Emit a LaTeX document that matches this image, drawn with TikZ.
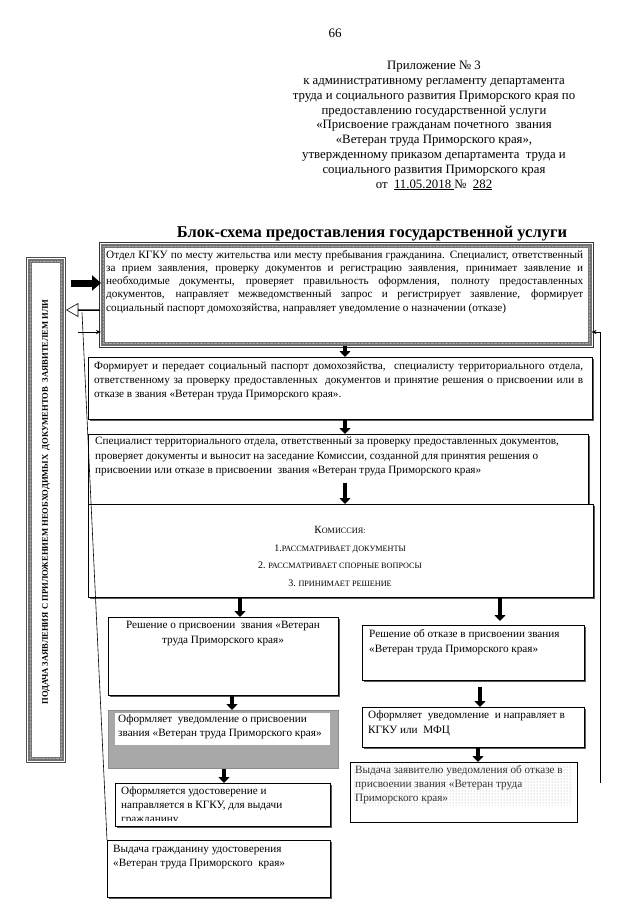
\documentclass[tikz,border=0pt]{standalone}
\usepackage{fontspec}
\setmainfont{Liberation Serif}
\usetikzlibrary{arrows.meta,shadows,shapes.arrows,patterns,calc}
\begin{document}
\begin{tikzpicture}[x=1pt,y=-1pt,
  box/.style={draw=black, line width=0.8pt, fill=white, anchor=north west, inner sep=0pt,
    drop shadow={shadow xshift=1.6pt, shadow yshift=-1.6pt, fill=black!65, opacity=1}},
  plainbox/.style={draw=black, line width=0.8pt, fill=white, anchor=north west, inner sep=0pt},
  txt/.style={anchor=north west, inner sep=0pt, font=\fontsize{11.2}{14}\selectfont},
  blk/.style={line width=4.5pt, -{Triangle[width=11pt,length=6pt]}},
  thinarr/.style={line width=0.6pt, -{Stealth[length=5pt,width=4pt]}},
]
\useasboundingbox (0,0) rectangle (640,905);
\fill[white] (0,0) rectangle (640,905);

% header
\node[font=\fontsize{13}{15}\selectfont, anchor=base] (pg) at (335,37) {66};
\node[anchor=north, align=center, inner sep=0pt, font=\fontsize{12.8}{14.8}\selectfont] (hdr) at (434,61)
{Приложение № 3\\
к административному регламенту департамента\\
труда и социального развития Приморского края по\\
предоставлению государственной услуги\\
«Присвоение гражданам почетного\ \ звания\\
«Ветеран труда Приморского края»,\\
утвержденному приказом департамента\ \ труда и\\
социального развития Приморского края\\
от\ \ \underline{11.05.2018\ }№\ \ \underline{282}};

\node[font=\bfseries\fontsize{16.5}{18}\selectfont, anchor=base] (ttl) at (372,237)
{Блок-схема предоставления государственной услуги};

% left bar
\node[anchor=north west, minimum width=32pt, minimum height=498pt, draw=black!55, line width=3.5pt,
  fill=white, inner sep=0pt] (lb) at (28,259) {};
\draw[black!70, line width=0.4pt] ($(lb.north west)+(-1.75,-1.75)$) rectangle ($(lb.south east)+(1.75,1.75)$);
\draw[black!35, line width=0.4pt, densely dotted] ($(lb.north west)+(2.3,2.3)$) rectangle ($(lb.south east)+(-2.3,-2.3)$);
\node[rotate=90, inner sep=0pt, font=\bfseries\fontsize{8.6}{10}\selectfont] (lbt) at (46,502)
{ПОДАЧА ЗАЯВЛЕНИЯ С ПРИЛОЖЕНИЕМ НЕОБХОДИМЫХ\ \ ДОКУМЕНТОВ\ \ ЗАЯВИТЕЛЕМ ИЛИ};

% box 1
\node[anchor=north west, minimum width=487pt, minimum height=98pt, draw=black!55, line width=3.5pt,
  fill=white, inner sep=0pt] (b1) at (101,244) {};
\draw[black!80, line width=0.5pt] ($(b1.north west)+(-1.75,-1.75)$) rectangle ($(b1.south east)+(1.75,1.75)$);
\draw[black!35, line width=0.4pt, densely dotted] ($(b1.north west)+(2.3,2.3)$) rectangle ($(b1.south east)+(-2.3,-2.3)$);
\node[txt, text width=477pt, align=justify, font=\fontsize{11.2}{13.25}\selectfont] (t1) at (106,250)
{Отдел КГКУ по месту жительства или месту пребывания гражданина. Специалист, ответственный\linebreak
за прием заявления, проверку документов и регистрацию заявления, принимает заявление и\linebreak
необходимые документы, проверяет правильность оформления, полноту предоставленных\linebreak
документов, направляет межведомственный запрос и регистрирует заявление, формирует\linebreak
социальный паспорт домохозяйства, направляет уведомление о назначении (отказе)};

% side arrows
\coordinate (c283) at (0,283);
\coordinate (c332) at (0,332);
\draw[line width=7pt, -{Triangle[width=15pt,length=9pt]}, shorten <=7pt] (lb.east |- c283) -- (b1.west |- c283);
\node[single arrow, draw=black, fill=white, line width=0.6pt, shape border rotate=180,
  minimum height=33pt, minimum width=13pt, single arrow head extend=4pt,
  single arrow tip angle=60, inner sep=0pt, anchor=tail] (ha) at (100,310) {};
\coordinate (t0) at (78,332);
\draw[thinarr] (t0) -- (b1.west |- t0);
\coordinate (r0) at (600,783);
\draw[thinarr] (r0) |- (b1.east |- c332);

% box 2
\node[box, minimum width=504pt, minimum height=62pt] (b2) at (88,357) {};
\node[txt, text width=489pt, align=justify] (t2) at (94,362)
{Формирует и передает социальный паспорт домохозяйства,\ \ специалисту территориального отдела,\linebreak
ответственному за проверку предоставленных\ \ документов и принятие решения о присвоении или в\linebreak
отказе в звания «Ветеран труда Приморского края».};

% box 3
\node[box, minimum width=500pt, minimum height=72pt] (b3) at (88,434) {};
\node[txt, align=left, font=\fontsize{11.2}{14.5}\selectfont] (t3) at (95,437)
{Специалист территориального отдела, ответственный за проверку предоставленных документов,\\
проверяет документы и выносит на заседание Комиссии, созданной для принятия решения о\\
присвоении или отказе в присвоении\ \ звания «Ветеран труда Приморского края»};

% box 4
\node[box, minimum width=505pt, minimum height=93pt] (b4) at (88,504) {};
\node[anchor=north, align=center, inner sep=0pt, font=\fontsize{8.2}{17.6}\selectfont] (t4) at (340,526)
{{\fontsize{11}{12}\selectfont К}ОМИССИЯ:\\
{\fontsize{10}{10}\selectfont 1.}РАССМАТРИВАЕТ ДОКУМЕНТЫ\\
{\fontsize{10}{10}\selectfont 2.} РАССМАТРИВАЕТ СПОРНЫЕ ВОПРОСЫ\\
{\fontsize{10}{10}\selectfont 3.} ПРИНИМАЕТ РЕШЕНИЕ};

\coordinate (x345) at (345,0);
\coordinate (a3) at (345,483);
\draw[blk] (b1.south -| x345) -- (b2.north -| x345);
\draw[blk] (b2.south -| x345) -- (b3.north -| x345);
\draw[blk] (a3) -- (a3 |- b4.north);

% box 5
\node[box, minimum width=230pt, minimum height=78pt] (b5) at (108,617) {};
\node[txt, anchor=north, align=center, font=\fontsize{11.2}{15}\selectfont] (t5) at (223,621)
{Решение о присвоении\ \ звания «Ветеран\\ труда Приморского края»};

% box 6
\node[box, minimum width=222pt, minimum height=55pt] (b6) at (362,625) {};
\node[txt, align=left, font=\fontsize{11.2}{15}\selectfont] (t6) at (369,629)
{Решение об отказе в присвоении звания\\ «Ветеран труда Приморского края»};

% box 7
\node[anchor=north west, minimum width=230pt, minimum height=58pt, inner sep=0pt,
  fill=black!34, draw=black!45, line width=0.6pt] (b7) at (108,710) {};
\fill[white] (115,713) rectangle (330,745);
\node[txt, align=left] (t7) at (118,715)
{Оформляет\ \ уведомление о присвоении\\ звания «Ветеран труда Приморского края»};

% box 8
\node[box, minimum width=222pt, minimum height=40pt] (b8) at (362,707) {};
\node[txt, align=left, font=\fontsize{11.2}{15}\selectfont] (t8) at (368,711)
{Оформляет\ \ уведомление\ \ и направляет в\\ КГКУ или\ \ МФЦ};

% box 9
\node[plainbox, minimum width=227pt, minimum height=60pt] (b9) at (350,762) {};
\fill[pattern=dots, pattern color=black!35] (354,764) rectangle (572,805);
\node[txt, align=left, text=black!80] (t9) at (355,765)
{Выдача заявителю уведомления об отказе в\\ присвоении звания «Ветеран труда\\ Приморского края»};

% box 10
\node[box, minimum width=215pt, minimum height=43pt] (b10) at (115,783) {};
\begin{scope}
\clip (116,784) rectangle (329,820);
\node[txt, align=left] (t10) at (121,787)
{Оформляется удостоверение и\\ направляется в КГКУ, для выдачи\\ гражданину};
\end{scope}

% box 11
\node[box, minimum width=223pt, minimum height=57pt] (b11) at (107,840) {};
\node[txt, align=left] (t11) at (113,845)
{Выдача гражданину удостоверения\\ «Ветеран труда Приморского\ \ края»};

% lower arrows
\coordinate (x240) at (240,0);
\coordinate (x500) at (500,0);
\coordinate (x232) at (232,0);
\coordinate (x480) at (480,0);
\coordinate (x478) at (478,0);
\coordinate (x224) at (224,0);
\draw[blk] (b4.south -| x240) -- (b5.north -| x240);
\draw[blk, shorten >=4pt] (b4.south -| x500) -- (b6.north -| x500);
\draw[blk] (b5.south -| x232) -- (b7.north -| x232);
\draw[blk, shorten <=6pt] (b6.south -| x480) -- (b8.north -| x480);
\draw[blk] (b8.south -| x478) -- (b9.north -| x478);
\draw[blk] (b7.south -| x224) -- (b10.north -| x224);

% return line
\coordinate (s0) at (82,312.5);
\draw[line width=0.6pt] (s0) -- (b11.north west);
\end{tikzpicture}
\end{document}
